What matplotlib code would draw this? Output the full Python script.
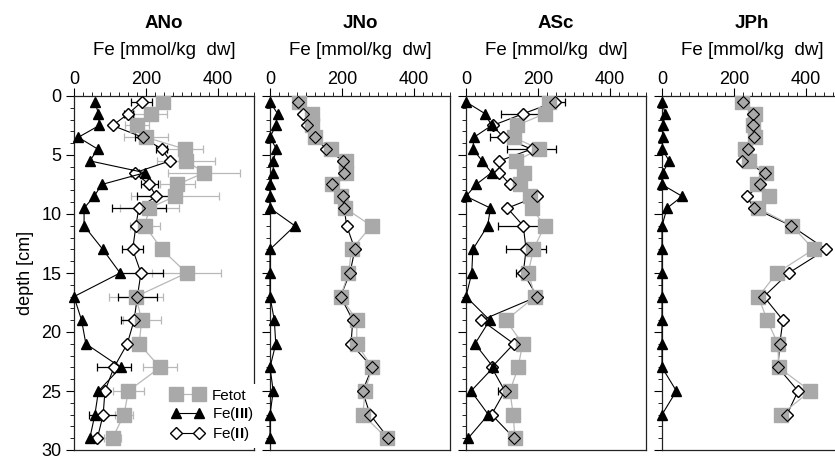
import matplotlib
matplotlib.use('Agg')
import matplotlib.pyplot as plt
from matplotlib.lines import Line2D
from matplotlib.ticker import MultipleLocator

plt.rcParams['font.family'] = ['Liberation Sans', 'DejaVu Sans']
plt.rcParams['mathtext.fontset'] = 'custom'
plt.rcParams['mathtext.rm'] = 'Liberation Sans'
plt.rcParams['mathtext.bf'] = 'Liberation Sans:bold'

# profundidades [cm]
prof = [0.5, 1.5, 2.5, 3.5, 4.5, 5.5, 6.5, 7.5, 8.5, 9.5,
        11, 13, 15, 17, 19, 21, 23, 25, 27, 29]
prof_jph = prof[:-1]

# ANo
ano_tot = [248, 213, 176, 200, 308, 311, 362, 287, 281, 209, 197, 244, 313, 172, 188, 181, 239, 151, 139, 107]
ano_tot_err = [0, 45, 33, 60, 51, 80, 100, 48, 122, 82, 42, 0, 95, 75, 53, 15, 47, 44, 24, 23]
ano_f3 = [58, 68, 70, 12, 66, 44, 197, 77, 56, 28, 28, 80, 128, 0, 21, 33, 130, 68, 58, 44]
ano_f2 = [188, 151, 107, 191, 244, 267, 169, 209, 228, 180, 172, 163, 186, 176, 167, 148, 111, 86, 81, 65]
ano_f2_err = [30, 12, 0, 21, 15, 0, 12, 23, 53, 75, 0, 30, 60, 55, 37, 0, 48, 0, 40, 0]

# JNo
jno_tot = [80, 118, 118, 125, 169, 210, 210, 173, 197, 208, 282, 227, 218, 196, 241, 241, 284, 264, 258, 324]
jno_f3 = [0, 21, 16, 0, 18, 9, 9, 0, 0, 0, 69, 0, 0, 0, 12, 16, 0, 9, 0, 0]
jno_f2 = [79, 91, 102, 125, 156, 204, 206, 171, 202, 206, 213, 236, 222, 196, 230, 225, 284, 257, 278, 329]

# ASc
asc_tot = [230, 219, 141, 132, 204, 139, 161, 150, 178, 182, 219, 187, 173, 192, 111, 157, 145, 122, 131, 136]
asc_f3 = [0, 53, 71, 22, 19, 45, 71, 28, 0, 68, 60, 19, 16, 0, 66, 25, 76, 14, 62, 6]
asc_f2 = [247, 159, 74, 104, 182, 93, 93, 122, 198, 115, 159, 167, 159, 198, 43, 133, 71, 108, 71, 134]
asc_f2_err = [29, 62, 0, 37, 67, 0, 0, 0, 0, 0, 70, 55, 21, 0, 0, 0, 0, 20, 0, 0]

# JPh
jph_tot = [222, 259, 252, 259, 231, 241, 289, 264, 296, 267, 361, 421, 319, 268, 292, 322, 324, 412, 331]
jph_f3 = [0, 9, 2, 3, 0, 20, 2, 0, 56, 14, 0, 0, 0, 0, 0, 0, 0, 40, 0]
jph_f2 = [224, 252, 252, 255, 238, 222, 287, 273, 236, 255, 359, 456, 352, 283, 336, 327, 322, 378, 347]

cinza = '#a9a9a9'
cinza_linha = '#b8b8b8'


def barras(ax, x, y, err, cor, z):
    pts = [(a, b, c) for a, b, c in zip(x, y, err) if c > 0]
    if not pts:
        return
    xs, ys, es = zip(*pts)
    ax.errorbar(xs, ys, xerr=es, fmt='none', ecolor=cor, elinewidth=0.9,
                capsize=2.6, capthick=0.9, zorder=z)


def painel(ax, nome, prof, tot, f3, f2, tot_err=None, f2_err=None, primeiro=False):
    if tot_err is not None:
        barras(ax, tot, prof, tot_err, cinza_linha, 1)
    if f2_err is not None:
        barras(ax, f2, prof, f2_err, 'black', 1.5)
    ax.plot(f2, prof, color='black', lw=0.8, marker='D', ms=6, mfc='white',
            mec='black', mew=0.8, zorder=2)
    ax.plot(tot, prof, color=cinza_linha, lw=0.9, marker='s', ms=9.5,
            mfc=cinza, mec=cinza, zorder=3)
    ax.plot(f2, prof, ls='none', marker='D', ms=6, mfc='none', mec='black',
            mew=0.8, zorder=4)
    ax.plot(f3, prof, color='black', lw=0.8, marker='^', ms=7.5, mfc='black',
            mec='black', zorder=5, clip_on=False)

    ax.set_xlim(0, 500)
    ax.set_ylim(30, 0)
    ax.xaxis.tick_top()
    ax.xaxis.set_label_position('top')
    ax.xaxis.set_major_locator(MultipleLocator(200))
    ax.xaxis.set_minor_locator(MultipleLocator(25))
    ax.yaxis.set_major_locator(MultipleLocator(5))
    ax.yaxis.set_minor_locator(MultipleLocator(1))
    ax.tick_params(which='major', length=5.5, width=0.8, labelsize=13)
    ax.tick_params(which='minor', length=3, width=0.6)
    ax.tick_params(axis='x', pad=0.5)
    ax.tick_params(axis='y', pad=3.5, labelleft=primeiro)
    for s in ax.spines.values():
        s.set_linewidth(0.9)
        s.set_color('#222222')
    ax.set_xlabel('Fe [mmol/kg  dw]', fontsize=13.5, labelpad=11)
    ax.set_title(nome, fontsize=13.5, fontweight='bold', pad=10)
    if primeiro:
        ax.set_ylabel('depth [cm]', fontsize=13, labelpad=5)


fig = plt.figure(figsize=(8.35, 4.59), dpi=100)
baixo = 1 - 450 / 459
altura = 354 / 459
largura = 180 / 835
esquerdas = [74, 270, 466, 662]

ax1 = fig.add_axes([esquerdas[0] / 835, baixo, largura, altura])
ax2 = fig.add_axes([esquerdas[1] / 835, baixo, largura, altura])
ax3 = fig.add_axes([esquerdas[2] / 835, baixo, largura, altura])
ax4 = fig.add_axes([esquerdas[3] / 835, baixo, largura, altura])

painel(ax1, 'ANo', prof, ano_tot, ano_f3, ano_f2, ano_tot_err, ano_f2_err, primeiro=True)
painel(ax2, 'JNo', prof, jno_tot, jno_f3, jno_f2)
painel(ax3, 'ASc', prof, asc_tot, asc_f3, asc_f2, None, asc_f2_err)
painel(ax4, 'JPh', prof_jph, jph_tot, jph_f3, jph_f2)

h_tot = Line2D([], [], color=cinza_linha, lw=0.9, marker='s', ms=9.5, mfc=cinza, mec=cinza)
h_f3 = Line2D([], [], color='black', lw=0.8, marker='^', ms=7.5, mfc='black', mec='black')
h_f2 = Line2D([], [], color='black', lw=0.8, marker='D', ms=6, mfc='white', mec='black')
leg = ax1.legend([h_tot, h_f3, h_f2], ['Fetot', r'Fe($\mathbf{III}$)', r'Fe($\mathbf{II}$)'],
                 loc='lower right', bbox_to_anchor=(1.025, 0.006), numpoints=2,
                 fontsize=11, handlelength=2.1, handletextpad=0.55, labelspacing=0.15,
                 borderpad=0.3, borderaxespad=0, frameon=True, fancybox=False,
                 framealpha=1, facecolor='white', edgecolor='none')
leg.set_zorder(10)

fig.savefig('out.png', dpi=100)
